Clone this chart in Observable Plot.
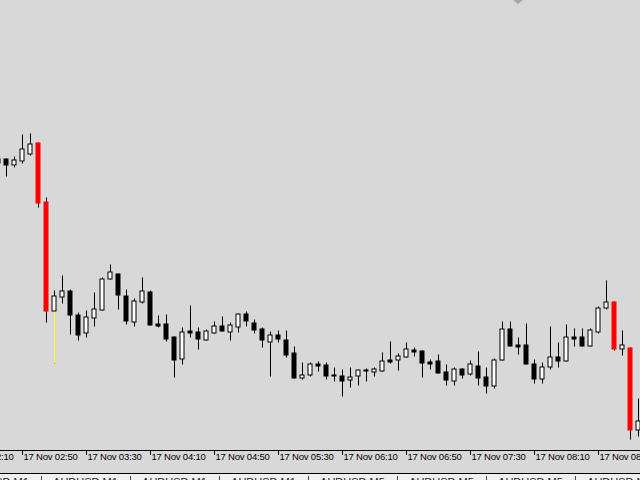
<!DOCTYPE html>
<html>
<head>
<meta charset="utf-8">
<script src="https://cdn.jsdelivr.net/npm/d3@7"></script>
<script src="https://cdn.jsdelivr.net/npm/@observablehq/plot@0.6"></script>
<style>
  html, body { margin:0; padding:0; width:640px; height:480px; overflow:hidden; background:#d8d8d8; }
  #wrap { position:relative; width:640px; height:480px; overflow:hidden; }
  #chart { position:absolute; left:0; top:0; }
  #chart text { letter-spacing:-0.2px; }
  #shift { position:absolute; left:513px; top:0; width:0; height:0; border-left:5px solid transparent; border-right:5px solid transparent; border-top:4px solid #a8a8a8; }
  #tabs { position:absolute; left:0; top:473px; width:640px; height:7px; border-top:1px solid #000; background:#f0f0f0; overflow:hidden; }
  .tab { position:absolute; top:0; width:89px; height:7px; font:11px/13px "Liberation Sans", Arial, sans-serif; color:#222; text-align:center; padding-top:2px; box-sizing:border-box; white-space:nowrap; }
  .tab::before { content:""; position:absolute; left:0; top:2px; bottom:0; border-left:1px solid #444; }
</style>
</head>
<body>
<div id="wrap">
  <div id="chart"></div>
  <div id="shift"></div>
  <div id="tabs"></div>
</div>
<script>
// 5-minute AUDUSD candles, 17 Nov 2017
const times = [
  "02:35","02:40","02:45","02:50","02:55",
  "03:00","03:05","03:10","03:15","03:20","03:25","03:30","03:35","03:40","03:45","03:50","03:55",
  "04:00","04:05","04:10","04:15","04:20","04:25","04:30","04:35","04:40","04:45","04:50","04:55",
  "05:00","05:05","05:10","05:15","05:20","05:25","05:30","05:35","05:40","05:45","05:50","05:55",
  "06:00","06:05","06:10","06:15","06:20","06:25","06:30","06:35","06:40","06:45","06:50","06:55",
  "07:00","07:05","07:10","07:15","07:20","07:25","07:30","07:35","07:40","07:45","07:50","07:55",
  "08:00","08:05","08:10","08:15","08:20","08:25","08:30","08:35","08:40","08:45","08:50","08:55",
  "09:00","09:05","09:10","09:15"
];
const open = [
  0.75841,0.75841,0.75835,0.75839,0.75846,0.75857,0.75798,0.75689,0.75703,0.75709,
  0.75685,0.75667,0.75682,0.75690,0.75721,0.75726,0.75704,0.75678,0.75698,0.75708,
  0.75676,0.75676,0.75663,0.75641,0.75669,0.75668,0.75660,0.75667,0.75674,0.75668,
  0.75673,0.75686,0.75677,0.75671,0.75658,0.75665,0.75660,0.75647,0.75622,0.75625,
  0.75636,0.75635,0.75625,0.75624,0.75620,0.75624,0.75630,0.75628,0.75629,0.75640,
  0.75640,0.75643,0.75650,0.75649,0.75638,0.75639,0.75628,0.75619,0.75631,0.75626,
  0.75634,0.75623,0.75614,0.75640,0.75671,0.75655,0.75655,0.75636,0.75621,0.75633,
  0.75643,0.75639,0.75663,0.75663,0.75654,0.75668,0.75692,0.75698,0.75651,0.75652,
  0.75570
];
const high = [
  0.75842,0.75841,0.75843,0.75865,0.75866,0.75857,0.75802,0.75709,0.75724,0.75710,
  0.75687,0.75689,0.75707,0.75722,0.75735,0.75726,0.75710,0.75701,0.75722,0.75709,
  0.75684,0.75685,0.75663,0.75672,0.75694,0.75672,0.75670,0.75678,0.75683,0.75677,
  0.75686,0.75688,0.75680,0.75672,0.75668,0.75669,0.75669,0.75653,0.75637,0.75637,
  0.75638,0.75637,0.75632,0.75630,0.75632,0.75630,0.75631,0.75632,0.75647,0.75658,
  0.75646,0.75657,0.75652,0.75649,0.75640,0.75645,0.75635,0.75632,0.75631,0.75639,
  0.75648,0.75632,0.75641,0.75678,0.75678,0.75662,0.75676,0.75640,0.75637,0.75673,
  0.75657,0.75675,0.75671,0.75671,0.75671,0.75693,0.75719,0.75698,0.75669,0.75652,
  0.75601
];
const low = [
  0.75834,0.75824,0.75833,0.75837,0.75845,0.75793,0.75678,0.75637,0.75697,0.75666,
  0.75660,0.75663,0.75674,0.75690,0.75721,0.75691,0.75676,0.75674,0.75697,0.75675,
  0.75673,0.75659,0.75623,0.75636,0.75663,0.75651,0.75660,0.75667,0.75669,0.75660,
  0.75668,0.75674,0.75667,0.75653,0.75624,0.75658,0.75643,0.75622,0.75621,0.75624,
  0.75629,0.75621,0.75619,0.75604,0.75613,0.75615,0.75619,0.75624,0.75629,0.75637,
  0.75630,0.75643,0.75644,0.75623,0.75631,0.75627,0.75615,0.75615,0.75622,0.75625,
  0.75615,0.75607,0.75612,0.75640,0.75654,0.75646,0.75636,0.75617,0.75617,0.75631,
  0.75633,0.75639,0.75654,0.75654,0.75654,0.75667,0.75691,0.75650,0.75645,0.75561,
  0.75564
];
const close = [
  0.75837,0.75835,0.75840,0.75851,0.75856,0.75797,0.75689,0.75704,0.75709,0.75685,
  0.75665,0.75683,0.75691,0.75721,0.75728,0.75705,0.75679,0.75699,0.75709,0.75675,
  0.75674,0.75661,0.75640,0.75668,0.75667,0.75661,0.75669,0.75674,0.75669,0.75675,
  0.75686,0.75679,0.75670,0.75660,0.75665,0.75661,0.75645,0.75622,0.75625,0.75636,
  0.75634,0.75624,0.75624,0.75619,0.75623,0.75630,0.75629,0.75631,0.75639,0.75638,
  0.75644,0.75651,0.75648,0.75637,0.75636,0.75627,0.75620,0.75631,0.75625,0.75636,
  0.75622,0.75614,0.75640,0.75671,0.75654,0.75653,0.75636,0.75621,0.75633,0.75643,
  0.75639,0.75663,0.75661,0.75654,0.75670,0.75692,0.75698,0.75651,0.75655,0.75570,
  0.75579
];
const pinBars = ["03:10"];               // candle whose lower shadow is painted yellow
const tickTimes = ["02:10","02:50","03:30","04:10","04:50","05:30","06:10","06:50","07:30","08:10","08:50"];
const tabLabels = ["AUDUSD,M1","AUDUSD,M1","AUDUSD,M1","AUDUSD,M1","AUDUSD,M5","AUDUSD,M5","AUDUSD,M5","AUDUSD,M5"];

const day = "2017-11-17";
const at = s => new Date(`${day}T${s}:00Z`);
const candles = times.map((t, i) => ({time: t, date: at(t), open: open[i], high: high[i], low: low[i], close: close[i]}));

const halfBody = 75 * 1000;   // half body width, in ms of the time scale
const bigDrop = 0.0004;       // bearish bodies larger than this are painted red
const isRed = d => d.open - d.close > bigDrop;
const upC = candles.filter(d => d.close > d.open);
const redC = candles.filter(isRed);
const downC = candles.filter(d => d.close <= d.open && !isRed(d));
const pinC = candles.filter(d => pinBars.includes(d.time));
const x1 = d => new Date(+d.date - halfBody);
const x2 = d => new Date(+d.date + halfBody);
const ticks = tickTimes.map(at);
const yDomain = [0.7555, 0.7600];
const font = "'Liberation Sans', Arial, sans-serif";

const chart = Plot.plot({
  width: 640,
  height: 473,
  marginTop: 0, marginRight: 0, marginBottom: 23, marginLeft: 0,
  style: {background: "transparent", fontFamily: font, fontSize: "9px"},
  x: {type: "utc", domain: [new Date(`${day}T02:36:15Z`), new Date(`${day}T09:16:15Z`)], axis: null},
  y: {domain: yDomain, axis: null},
  marks: [
    Plot.ruleX(candles, {x: "date", y1: "low", y2: "high", stroke: "#000", strokeWidth: 1, strokeLinecap: "square"}),
    Plot.ruleX(pinC, {x: "date", y1: d => Math.min(d.open, d.close), y2: "low", stroke: "#ffff00", strokeWidth: 1, strokeLinecap: "square"}),
    Plot.rect(upC, {x1, x2, y1: "open", y2: "close", fill: "#ffffff", stroke: "#000", strokeWidth: 1}),
    Plot.rect(downC, {x1, x2, y1: "open", y2: "close", fill: "#000", stroke: "#000", strokeWidth: 1}),
    Plot.rect(redC, {x1, x2, y1: "open", y2: "close", fill: "#ff0000", stroke: "#ff0000", strokeWidth: 1}),
    Plot.ruleY([yDomain[0]], {stroke: "#000", strokeWidth: 1}),
    Plot.ruleX(ticks, {x: d => d, insetTop: 450, insetBottom: -5, stroke: "#000", strokeWidth: 1}),
    Plot.text(tickTimes, {x: d => at(d), text: d => `17 Nov ${d}`, frameAnchor: "bottom", textAnchor: "start", dx: 1, dy: 9, fill: "#000", fontSize: 9.5, fontFamily: font})
  ]
});
document.getElementById("chart").appendChild(chart);

const tabs = document.getElementById("tabs");
tabLabels.forEach((label, i) => {
  const el = document.createElement("div");
  el.className = "tab";
  el.style.left = (-48 + 89 * i) + "px";
  el.textContent = label;
  tabs.appendChild(el);
});
</script>
</body>
</html>
